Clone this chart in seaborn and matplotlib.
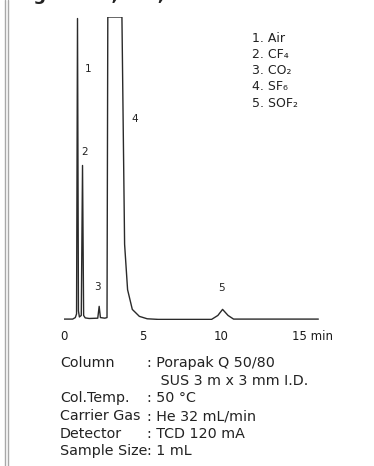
import numpy as np
import pandas as pd
import seaborn as sns
import matplotlib.pyplot as plt
from matplotlib.lines import Line2D
from matplotlib.transforms import ScaledTranslation

# ==========================================
# 0. data (time in min, signal in % of full scale)
# ==========================================
trace_time = [0.00, 0.55, 0.72, 0.80, 0.86, 0.92, 0.98, 1.10, 1.18, 1.25,
              1.35, 1.60, 2.15, 2.24, 2.32, 2.60, 2.74, 2.79, 3.69, 3.78,
              3.86, 4.05, 4.35, 4.80, 5.30, 6.00, 9.40, 9.80, 10.10, 10.45,
              10.80, 13.00, 16.20]
trace_signal = [0.3, 0.3, 0.8, 2.0, 99.5, 3.0, 1.0, 1.5, 51.0, 1.5,
                0.7, 0.5, 0.6, 4.5, 0.8, 0.6, 0.8, 100.0, 100.0, 60.0,
                25.0, 10.0, 3.5, 1.2, 0.4, 0.2, 0.2, 1.5, 3.5, 1.5,
                0.3, 0.3, 0.3]

peak_ids = ['1', '2', '3', '4', '5']
peak_label_x = [1.53, 1.34, 2.10, 4.52, 10.06]
peak_label_y = [83.0, 55.5, 11.0, 66.5, 10.5]

compounds = ['1. Air', '2. CF₄', '3. CO₂', '4. SF₆', '5. SOF₂']

x_ticks = [0, 5, 10, 15]
x_tick_labels = ['0', '5', '10', '15 min']

cond_names = ['Column', '', 'Col.Temp.', 'Carrier Gas', 'Detector', 'Sample Size']
cond_values = [': Porapak Q 50/80', '   SUS 3 m x 3 mm I.D.', ': 50 °C',
               ': He 32 mL/min', ': TCD 120 mA', ': 1 mL']

title = 'Fig.6  CF₄, SF₆, SOF₂'

# ==========================================
# 1. figure
# ==========================================
sns.set_style('white')
plt.rcParams['font.family'] = ['DejaVu Sans']

W, H = 374, 466
fig = plt.figure(figsize=(W / 100, H / 100), dpi=100)

PX_MIN = 15.7   # pixel per minute
X0, Y0, YTOP = 64, 320, 17
XMAX = 17
ax = fig.add_axes([X0 / W, 1 - Y0 / H, XMAX * PX_MIN / W, (Y0 - YTOP) / H])

df = pd.DataFrame({'time': trace_time, 'signal': trace_signal})
sns.lineplot(data=df, x='time', y='signal', ax=ax, sort=False, estimator=None,
             color='#2a2a2a', linewidth=1.0)

ax.set_xlim(0, XMAX)
ax.set_ylim(0, 100)
for s in ax.spines.values():
    s.set_visible(False)
ax.set_yticks([])
ax.set_xticks(x_ticks)
ax.set_xticklabels(x_tick_labels, fontsize=8.5, color='#1a1a1a')
ax.tick_params(axis='x', length=0, pad=7)
ax.set_xlabel('')
ax.set_ylabel('')
# "15 min": keep the number on its tick
last = ax.get_xticklabels()[-1]
last.set_ha('left')
last.set_transform(last.get_transform() + ScaledTranslation(-8 / 100, 0, fig.dpi_scale_trans))

for lab, px, py in zip(peak_ids, peak_label_x, peak_label_y):
    ax.text(px, py, lab, fontsize=7.5, ha='center', va='center', color='#222222')

# legend list of compounds
for i, c in enumerate(compounds):
    fig.text(252 / W, 1 - (38 + i * 16.3) / H, c, fontsize=9, ha='left', va='center',
             color='#222222')

# conditions block
rows_y = [363, 381, 398, 416, 434, 451]
for name, val, y in zip(cond_names, cond_values, rows_y):
    if name:
        fig.text(60 / W, 1 - y / H, name, fontsize=10.3, ha='left', va='center', color='#222222')
    fig.text(147 / W, 1 - y / H, val, fontsize=10.3, ha='left', va='center', color='#222222')

# title, cut off at the very top as in the scan
fig.text(15 / W, 1 - 0.5 / H, title, fontsize=13, fontweight='bold', ha='left',
         va='baseline', color='#222222')

# double frame line on the left
for xl in [5, 8]:
    fig.add_artist(Line2D([xl / W, xl / W], [0, 1], transform=fig.transFigure,
                          color='#a8a8a8', linewidth=1.0))

fig.savefig('out.png', dpi=100)
plt.close(fig)
